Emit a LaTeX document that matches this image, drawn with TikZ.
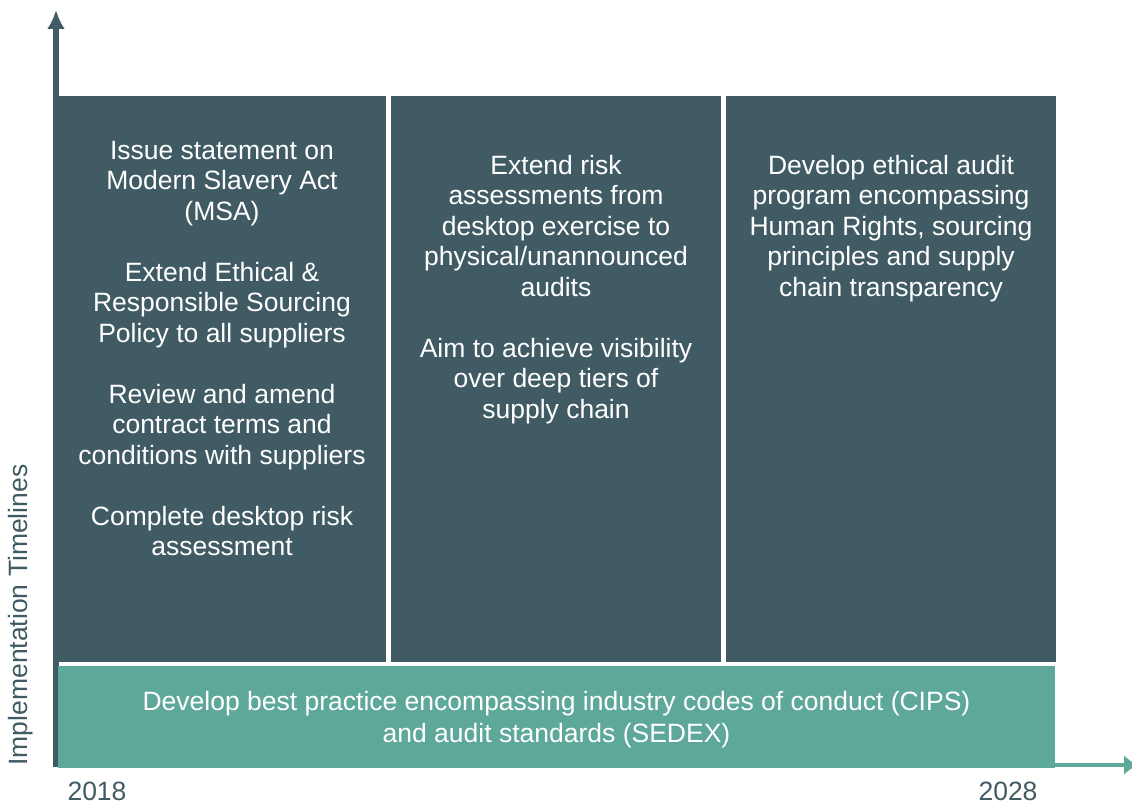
\documentclass[tikz,border=0pt]{standalone}
\usepackage{fontspec}
\setmainfont{Liberation Sans}
\usepackage{xcolor}
\usepackage{tikz}
\usetikzlibrary{positioning,arrows.meta}
\definecolor{slate}{RGB}{64,91,99}
\definecolor{sea}{RGB}{94,168,154}

\begin{document}
\begin{tikzpicture}[
     x = 1pt, y = -1pt,
     every node/.style = {
     	inner sep = 0pt, outer sep = 0pt,
     	font = \fontsize{26.5}{30.5}\selectfont},
     phase/.style = {fill = slate, minimum width = 330pt, minimum height = 566pt},
     phasetext/.style = {text = white, align = center, anchor = north},
     yearlabel/.style = {text = slate}
     ]
     \useasboundingbox (0,0) rectangle (1132,805);

       % axes
       \coordinate (O) at (56,767);
       \coordinate (Ytip) at (56,10);
       \coordinate (Xstart) at (56,765);
       \coordinate (Xtip) at (1138,765);
       \draw[sea, line width = 4pt, -{Latex[length=14pt,width=20pt]}] (Xstart)--(Xtip);
       \draw[slate, line width = 6pt, -{Latex[length=19pt,width=18pt]}] (O)--(Ytip);

       \node[phase, minimum width = 328pt] (P1) at (222,379) {}; % 2018
       \node[phase] (P2) at (556,379) {};
       \node[phase] (P3) at (891,379) {}; % 2028
       \node[fill = sea, minimum width = 997pt, minimum height = 102pt] (Base) at (556.5,717) {};

       \node[phasetext, below = 45pt of P1.north] (T1) {Issue statement on\\Modern Slavery Act\\(MSA)\\[30.5pt]
          Extend Ethical \&\\Responsible Sourcing\\Policy to all suppliers\\[30.5pt]
          Review and amend\\contract terms and\\conditions with suppliers\\[30.5pt]
          Complete desktop risk\\assessment};
       \node[phasetext, below = 59pt of P2.north] (T2) {Extend risk\\assessments from\\desktop exercise to\\physical/unannounced\\audits\\[30.5pt]
          Aim to achieve visibility\\over deep tiers of\\supply chain};
       \node[phasetext, below = 59pt of P3.north] (T3) {Develop ethical audit\\program encompassing\\Human Rights, sourcing\\principles and supply\\chain transparency};
       \node[text = white, align = center, font = \fontsize{26.5}{32}\selectfont] (TB) at ([yshift=-2.5pt]Base.center)
          {Develop best practice encompassing industry codes of conduct (CIPS)\\and audit standards (SEDEX)};

       \node[yearlabel] (Y1) at (97,791.5) {2018};
       \node[yearlabel] (Y2) at (1008,791.5) {2028};
       \node[yearlabel, rotate = 90] (Ylab) at (21,615) {Implementation Timelines};

      \end{tikzpicture}
\end{document}
